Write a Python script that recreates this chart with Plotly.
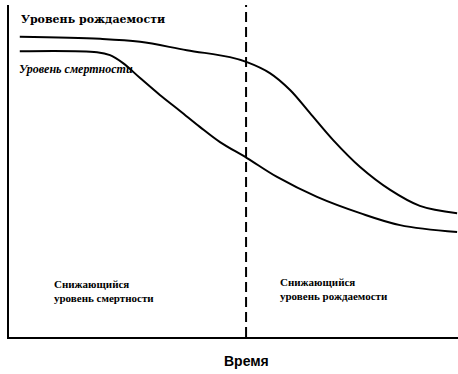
import plotly.graph_objects as go

# Time axis (0-100), level (0-100)
birth_t = [2.4, 20.3, 29.2, 39.6, 49.2, 53.0, 58.1, 62.6, 67.0, 72.2, 78.2, 84.9, 91.5, 99.8]
birth_v = [90.4, 89.8, 88.9, 86.4, 84.3, 82.8, 79.5, 74.4, 67.5, 59.3, 51.2, 44.3, 39.5, 37.3]
death_t = [2.4, 19.6, 22.5, 25.4, 29.2, 33.6, 38.1, 42.5, 47.0, 53.0, 59.7, 68.6, 78.2, 87.1, 99.8]
death_v = [86.1, 85.8, 84.9, 82.5, 78.0, 72.9, 68.1, 63.3, 58.7, 53.9, 48.2, 42.2, 37.3, 33.7, 31.6]
divider_t = 52.8

serif = "DejaVu Serif, serif"
lserif = "Liberation Serif, Times New Roman, serif"

fig = go.Figure()
fig.add_trace(go.Scatter(x=birth_t, y=birth_v, mode="lines",
                         line=dict(color="black", width=2, shape="spline", smoothing=1.0)))
fig.add_trace(go.Scatter(x=death_t, y=death_v, mode="lines",
                         line=dict(color="black", width=2, shape="spline", smoothing=1.0)))
fig.add_trace(go.Scatter(x=[divider_t, divider_t], y=[0, 100], mode="lines",
                         line=dict(color="black", width=2, dash="10px,5px")))

ann = [
    dict(x=2.3, y=95.5, text="<b>Уровень рождаемости</b>", xanchor="left", yanchor="middle",
         font=dict(family=serif, size=11, color="black")),
    dict(x=1.7, y=80.7, text="<b><i>Уровень смертности</i></b>", xanchor="left", yanchor="middle",
         font=dict(family=lserif, size=12, color="black")),
    dict(x=9.5, y=14.0, text="<b>Снижающийся<br>уровень смертности</b>", xanchor="left", yanchor="middle",
         align="left", font=dict(family=lserif, size=11, color="black")),
    dict(x=59.9, y=14.4, text="<b>Снижающийся<br>уровень рождаемости</b>", xanchor="left", yanchor="middle",
         align="left", font=dict(family=lserif, size=11, color="black")),
]
for a in ann:
    fig.add_annotation(showarrow=False, **a)
fig.add_annotation(x=divider_t, y=-0.072, yref="paper", text="<b>Время</b>", showarrow=False,
                   xanchor="center", yanchor="middle",
                   font=dict(family="Liberation Sans, Arial, sans-serif", size=14, color="black"))

fig.update_layout(
    width=458, height=374,
    margin=dict(l=9, r=0, t=5, b=37),
    paper_bgcolor="white", plot_bgcolor="white",
    showlegend=False,
    xaxis=dict(range=[0, 100], showgrid=False, zeroline=False, showticklabels=False,
               showline=True, linecolor="black", linewidth=2, ticks=""),
    yaxis=dict(range=[0, 100], showgrid=False, zeroline=False, showticklabels=False,
               showline=True, linecolor="black", linewidth=2, ticks=""),
)
fig.write_html("out.html", config={"displayModeBar": False},
               post_script="document.body.style.margin='0';")
